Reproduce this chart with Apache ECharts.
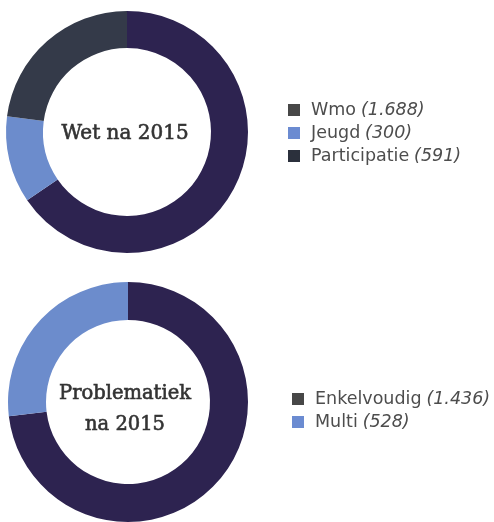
<!DOCTYPE html>
<html><head><meta charset="utf-8">
<script src="https://cdn.jsdelivr.net/npm/echarts@6/dist/echarts.min.js"></script>
<style>html,body{margin:0;padding:0;background:#fff}#c{width:494px;height:522px}</style>
</head><body><div id="c"></div>
<script>
var wetCategories = ['Wmo', 'Jeugd', 'Participatie'];
var wetValues = [1688, 300, 591];
var wetTitle = 'Wet na 2015';
var probCategories = ['Enkelvoudig', 'Multi'];
var probValues = [1436, 528];
var probTitle = 'Problematiek\nna 2015';

var wetSliceColors = ['#2d2350', '#6c8ccc', '#343a49'];
var wetLegendColors = ['#474747', '#6b8bd1', '#2b303c'];
var probSliceColors = ['#2d2350', '#6c8ccc'];
var probLegendColors = ['#474747', '#6b8bd1'];

function fmt(v){ return String(v).replace(/\B(?=(\d{3})+(?!\d))/g, '.'); }
var valueMap = {};
wetCategories.forEach(function(c,i){ valueMap[c] = wetValues[i]; });
probCategories.forEach(function(c,i){ valueMap[c] = probValues[i]; });

function legendFor(cats, colors, left, top){
  return {
    orient: 'vertical', left: left, top: top,
    itemWidth: 12, itemHeight: 12, itemGap: 5,
    icon: 'rect',
    data: cats.map(function(c,i){ return {name:c, itemStyle:{color:colors[i]}}; }),
    formatter: function(name){ return '{n|' + name + '} {v|(' + fmt(valueMap[name]) + ')}'; },
    textStyle: {
      fontSize: 17.5, lineHeight: 18,
      rich: {
        n: {fontFamily:'DejaVu Sans', fontSize:17.5, color:'#4d4d4d', lineHeight:18, padding:[0,0,0,6]},
        v: {fontFamily:'DejaVu Sans', fontSize:17.5, fontStyle:'italic', color:'#4d4d4d', lineHeight:18}
      }
    }
  };
}

var chart = echarts.init(document.getElementById('c'));
chart.setOption({
  animation: false,
  legend: [
    legendFor(wetCategories, wetLegendColors, 283, 96),
    legendFor(probCategories, probLegendColors, 287, 385)
  ],
  graphic: [
    {type:'text', x:125, y:134, style:{text:wetTitle, textAlign:'center', textVerticalAlign:'middle', font:'20px "DejaVu Serif"', fill:'#333', stroke:'#333', lineWidth:0.6}},
    {type:'text', x:125, y:409, style:{text:probTitle, textAlign:'center', textVerticalAlign:'middle', font:'19.5px "DejaVu Serif"', fill:'#333', stroke:'#333', lineWidth:0.6, lineHeight:31}}
  ],
  series: [
    {
      type:'pie', center:[127,132], radius:[84,121], startAngle:90, clockwise:true,
      label:{show:false}, labelLine:{show:false}, silent:true,
      data: wetCategories.map(function(c,i){ return {name:c, value:wetValues[i], itemStyle:{color:wetSliceColors[i]}}; })
    },
    {
      type:'pie', center:[128,402], radius:[82,120], startAngle:90, clockwise:true,
      label:{show:false}, labelLine:{show:false}, silent:true,
      data: probCategories.map(function(c,i){ return {name:c, value:probValues[i], itemStyle:{color:probSliceColors[i]}}; })
    }
  ]
});
</script></body></html>
